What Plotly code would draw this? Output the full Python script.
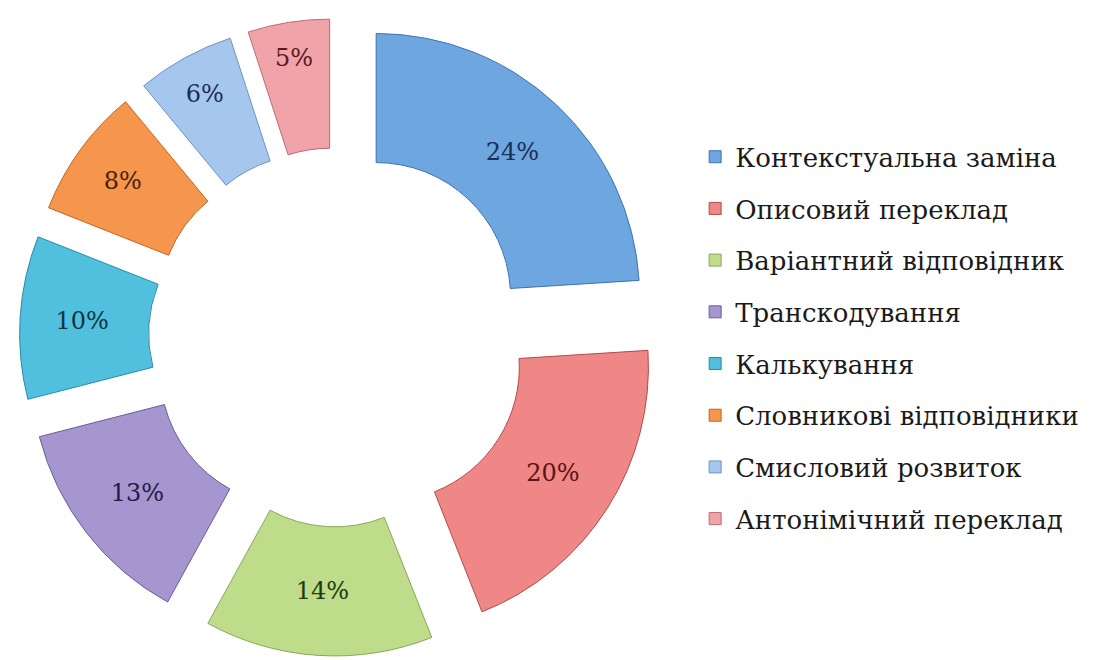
import plotly.graph_objects as go

categories = [
    "Контекстуальна заміна",
    "Описовий переклад",
    "Варіантний відповідник",
    "Транскодування",
    "Калькування",
    "Словникові відповідники",
    "Смисловий розвиток",
    "Антонімічний переклад",
]
values = [24, 20, 14, 13, 10, 8, 6, 5]
colors = ["#6EA6E0", "#EE8786", "#BFDC8A", "#A596CF", "#50C0DE", "#F6954C", "#A5C7EE", "#F1A3AA"]
edge_colors = ["#3F73AE", "#B24A4A", "#86A85A", "#6B5C98", "#2A8CA8", "#C46420", "#6E93C0", "#BB6A72"]
text_colors = ["#1B2E55", "#5A1414", "#1F3A12", "#251B45", "#0E3440", "#4A1E08", "#1B2E55", "#5A1A1A"]

FONT = "DejaVu Serif"

fig = go.Figure()
fig.add_trace(go.Pie(
    labels=categories,
    values=values,
    sort=False,
    direction="clockwise",
    rotation=0,
    hole=0.51,
    pull=[0.21] * len(values),
    marker=dict(colors=colors, line=dict(color=edge_colors, width=1)),
    texttemplate="%{value}%",
    textposition="inside",
    insidetextorientation="horizontal",
    insidetextfont=dict(family=FONT, size=24, color=text_colors),
    domain=dict(x=[0.013, 0.606], y=[0.006, 0.972]),
    showlegend=False,
    hoverinfo="label+percent",
))

for i, name in enumerate(categories):
    fig.add_trace(go.Scatter(
        x=[None], y=[None], mode="markers", name=name,
        legendgroup=f"g{i}",
        marker=dict(symbol="square", size=12, color=colors[i],
                    line=dict(color=edge_colors[i], width=1)),
        showlegend=True,
    ))

fig.update_layout(
    width=1093, height=660,
    margin=dict(l=0, r=0, t=0, b=0),
    paper_bgcolor="white", plot_bgcolor="white",
    xaxis=dict(visible=False), yaxis=dict(visible=False),
    legend=dict(
        x=0.636, y=0.798, xanchor="left", yanchor="top",
        font=dict(family=FONT, size=26, color="#1a1a1a"),
        tracegroupgap=14.9,
        bgcolor="rgba(0,0,0,0)",
    ),
)

fig.write_html("out.html")
